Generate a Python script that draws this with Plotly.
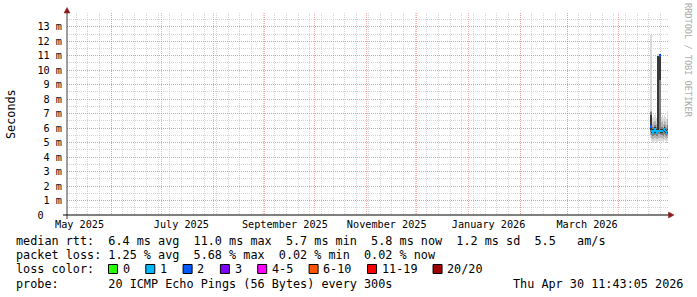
import plotly.graph_objects as go

# ---------------- data ----------------
times = ["2026-04-20 07:00", "2026-04-20 21:24", "2026-04-21 11:48", "2026-04-22 02:12",
         "2026-04-22 16:36", "2026-04-23 07:00", "2026-04-23 21:24", "2026-04-24 11:48",
         "2026-04-25 02:12", "2026-04-25 16:36", "2026-04-26 07:00", "2026-04-26 21:24",
         "2026-04-27 11:48", "2026-04-28 02:12", "2026-04-28 16:36", "2026-04-29 07:00",
         "2026-04-29 21:24"]
median_ms = [6.1, 5.8, 5.7, 5.8, 5.9, 5.8, 5.7, 5.8, 5.8, 11.0, 5.8, 5.8, 5.7, 5.9, 5.8, 5.7, 5.8]
lost_pings = [2, 1, 1, 1, 1, 1, 1, 1, 1, 2, 1, 1, 1, 1, 1, 1, 1]

smoke1_lo = [5.3, 5.1, 5.0, 5.1, 5.2, 5.1, 5.0, 5.2, 5.1, 5.2, 5.1, 5.1, 5.0, 5.2, 5.1, 5.0, 5.1]
smoke1_hi = [12.4, 6.7, 6.6, 6.8, 6.9, 6.7, 6.6, 11.1, 11.1, 11.1, 6.8, 6.9, 6.7, 6.9, 6.8, 6.6, 7.2]
smoke2_lo = [5.5, 5.3, 5.25, 5.35, 5.4, 5.3, 5.25, 5.5, 5.3, 5.5, 5.3, 5.35, 5.25, 5.4, 5.3, 5.25, 5.35]
smoke2_hi = [7.2, 6.3, 6.2, 6.4, 6.5, 6.3, 6.2, 11.0, 6.3, 11.0, 6.4, 6.5, 6.3, 6.5, 6.4, 6.2, 6.6]
smoke3_lo = [5.7, 5.5, 5.45, 5.5, 5.6, 5.5, 5.45, 5.6, 9.2, 5.6, 5.5, 5.5, 5.45, 5.6, 5.5, 5.45, 5.5]
smoke3_hi = [7.1, 6.1, 6.0, 6.1, 6.2, 6.1, 6.0, 11.0, 11.0, 11.0, 6.1, 6.1, 6.0, 6.2, 6.1, 6.0, 6.2]
smoke4_lo = [5.9, 5.65, 5.6, 5.65, 5.75, 5.65, 5.6, 5.7, 9.3, 9.3, 5.65, 5.65, 5.6, 5.75, 5.65, 5.6, 5.65]
smoke4_hi = [6.9, 5.95, 5.85, 5.95, 6.05, 5.95, 5.85, 11.0, 11.0, 11.0, 5.95, 5.95, 5.85, 6.05, 5.95, 5.85, 5.95]

loss_labels = ["0", "1", "2", "3", "4-5", "6-10", "11-19", "20/20"]
loss_upper = [0, 1, 2, 3, 5, 10, 19, 20]
loss_colors = ["#26ff00", "#00b8ff", "#0059ff", "#7e00ff", "#ff00ff", "#ff5500", "#ff0000", "#a00000"]

y_tickvals = list(range(0, 14))
y_ticktext = ["0\u00a0\u00a0\u00a0"] + [f"{v} m" for v in range(1, 14)]

month_starts = ["2025-06-01", "2025-07-01", "2025-08-01", "2025-09-01", "2025-10-01",
                "2025-11-01", "2025-12-01", "2026-01-01", "2026-02-01", "2026-03-01", "2026-04-01"]
x_label_pos = ["2025-05-13", "2025-07-13", "2025-09-13", "2025-11-13", "2026-01-13", "2026-03-13"]
x_label_text = ["May 2025", "July 2025", "September 2025", "November 2025", "January 2026", "March 2026"]

rtt_avg, rtt_max, rtt_min, rtt_now, rtt_sd, rtt_ams = 6.4, 11.0, 5.7, 5.8, 1.2, 5.5
loss_avg, loss_max, loss_min, loss_now = 1.25, 5.68, 0.02, 0.02
probe_text = "20 ICMP Echo Pings (56 Bytes) every 300s"
stamp_text = "Thu Apr 30 11:43:05 2026"

x_start, x_end = "2025-05-05 11:43:05", "2026-04-30 11:43:05"
STEP_MS = 14.4 * 3600 * 1000

# ---------------- layout helpers ----------------
W, H = 697, 297
PL, PR, PT, PB = 67, 668, 13, 215
MONO = "DejaVu Sans Mono"


def pxx(p):
    return (p - PL) / (PR - PL)


def pxy(p):
    return (PB - p) / (PB - PT)


def loss_color(n):
    for up, c in zip(loss_upper, loss_colors):
        if n <= up:
            return c
    return loss_colors[-1]


fig = go.Figure()

smoke = [(smoke1_lo, smoke1_hi, "#dadada"), (smoke2_lo, smoke2_hi, "#b4b4b4"),
         (smoke3_lo, smoke3_hi, "#808080"), (smoke4_lo, smoke4_hi, "#383838")]
for lo, hi, col in smoke:
    fig.add_trace(go.Bar(x=times, base=lo, y=[h - l for l, h in zip(lo, hi)],
                         width=STEP_MS, offset=0, marker=dict(color=col, line=dict(width=0)),
                         showlegend=False, hoverinfo="skip"))

med_half = 0.09
fig.add_trace(go.Bar(x=times, base=[m - med_half for m in median_ms], y=[2 * med_half] * len(median_ms),
                     width=STEP_MS, offset=0,
                     marker=dict(color=[loss_color(n) for n in lost_pings], line=dict(width=0)),
                     showlegend=False, hoverinfo="skip"))

# dummy trace for the label axis
fig.add_trace(go.Scatter(x=[], y=[], xaxis="x2", yaxis="y", showlegend=False))

shapes = []
# axes
shapes.append(dict(type="line", xref="paper", yref="paper", x0=pxx(67), x1=pxx(67), y0=pxy(219), y1=pxy(10),
                   line=dict(color="#404040", width=1)))
shapes.append(dict(type="line", xref="paper", yref="paper", x0=pxx(63), x1=pxx(670), y0=pxy(215), y1=pxy(215),
                   line=dict(color="#000000", width=1)))
arrow = "#8b1a1a"
shapes.append(dict(type="path", xref="paper", yref="paper",
                   path=f"M {pxx(67)},{pxy(7.5)} L {pxx(70)},{pxy(13)} L {pxx(64)},{pxy(13)} Z",
                   fillcolor=arrow, line=dict(color=arrow, width=0.5)))
shapes.append(dict(type="path", xref="paper", yref="paper",
                   path=f"M {pxx(674)},{pxy(215)} L {pxx(668.5)},{pxy(212)} L {pxx(668.5)},{pxy(218)} Z",
                   fillcolor=arrow, line=dict(color=arrow, width=0.5)))

annotations = []


def text(px, py, s, size=11.8, anchor="left", color="#000000", angle=0):
    annotations.append(dict(xref="paper", yref="paper", x=pxx(px), y=pxy(py), text=s.replace(" ", "\u00a0"),
                            xanchor=anchor, yanchor="middle", showarrow=False, textangle=angle,
                            borderpad=0, borderwidth=0,
                            font=dict(family=MONO, size=size, color=color)))


text(11, 114, "Seconds", size=11.8, anchor="center", angle=-90)
text(688, 60, "RRDTOOL / TOBI OETIKER", size=8.6, anchor="center", color="#ababab", angle=90)

row1 = (f"median rtt:  {rtt_avg:.1f} ms avg  {rtt_max:.1f} ms max  {rtt_min:.1f} ms min  "
        f"{rtt_now:.1f} ms now  {rtt_sd:.1f} ms sd  {rtt_ams:.1f}   am/s")
row2 = (f"packet loss: {loss_avg:.2f} % avg  {loss_max:.2f} % max  {loss_min:.2f} % min  "
        f"{loss_now:.2f} % now")
text(16, 241, row1)
text(16, 255.2, row2)
text(16, 269.3, "loss color:")
text(16, 283.5, "probe:       " + probe_text)
text(513, 283.5, stamp_text)

bx = 108.5
for lab, col in zip(loss_labels, loss_colors):
    shapes.append(dict(type="rect", xref="paper", yref="paper", x0=pxx(bx), x1=pxx(bx + 9),
                       y0=pxy(273.5), y1=pxy(264.5), fillcolor=col, line=dict(color="#000000", width=1)))
    text(bx + 14.2, 269.3, lab)
    bx += 37.3 + 7.05 * (len(lab) - 1)

grid_red = "rgba(240,110,110,0.55)"
grid_gray = "rgba(185,185,185,0.6)"

fig.update_layout(
    width=W, height=H,
    margin=dict(l=PL, r=W - PR, t=PT, b=H - PB, pad=0),
    paper_bgcolor="#ffffff", plot_bgcolor="#ffffff",
    barmode="overlay", bargap=0,
    showlegend=False,
    xaxis=dict(type="date", range=[x_start, x_end], tickmode="array", tickvals=month_starts,
               ticktext=[""] * len(month_starts), showticklabels=False, ticks="",
               showgrid=True, gridcolor=grid_red, griddash="1px,1px", gridwidth=1,
               minor=dict(showgrid=True, dtick=7 * 86400000, tick0="2025-05-04",
                          gridcolor=grid_gray, griddash="1px,1px", gridwidth=1, ticks=""),
               zeroline=False, showline=False, fixedrange=True),
    xaxis2=dict(type="date", overlaying="x", anchor="y", side="bottom", range=[x_start, x_end],
                tickmode="array", tickvals=x_label_pos, ticktext=x_label_text, ticks="",
                showgrid=False, zeroline=False, showline=False, ticklabelstandoff=2,
                tickfont=dict(family=MONO, size=10.2, color="#000000")),
    yaxis=dict(range=[0, 13.95], tickmode="array", tickvals=y_tickvals, ticktext=y_ticktext,
               ticks="", ticklabelstandoff=4,
               showgrid=True, gridcolor=grid_red, griddash="1px,1px", gridwidth=1,
               minor=dict(showgrid=True, dtick=0.5, gridcolor=grid_gray, griddash="1px,1px", gridwidth=1, ticks=""),
               zeroline=False, showline=False,
               tickfont=dict(family=MONO, size=10.2, color="#000000")),
    shapes=shapes,
    annotations=annotations,
)

fig.write_html("out.html", config={"displayModeBar": False})
